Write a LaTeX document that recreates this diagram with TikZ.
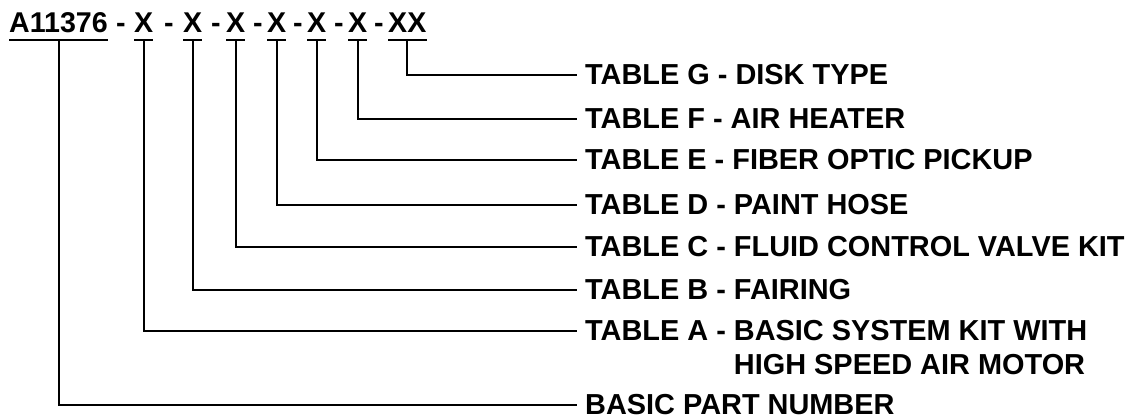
\documentclass[tikz,border=0pt]{standalone}
\usepackage{fontspec}
\setmainfont{Liberation Sans}
\usepackage{tikz}
\usetikzlibrary{calc,positioning}
\tikzstyle{code}  = [inner sep=0pt, anchor=base west, font=\bfseries\fontsize{28.6}{34}\selectfont]
\tikzstyle{hyph}  = [inner sep=0pt, anchor=base, font=\bfseries\fontsize{28.6}{34}\selectfont]
\tikzstyle{lbl}   = [inner sep=0pt, anchor=west, font=\bfseries\fontsize{28.9}{34}\selectfont]
\tikzstyle{lead}  = [line width=2pt]

\begin{document}
\begin{tikzpicture}[x=1pt,y=-1pt]
        \useasboundingbox (0,0) rectangle (1133,419);

        % part number
        \node[code] (pn) at (9,33) {A11376};
        \node[code] (ta) at (134,33) {X};
        \node[code] (tb) at (183,33) {X};
        \node[code] (tc) at (226,33) {X};
        \node[code] (td) at (267,33) {X};
        \node[code] (te) at (307,33) {X};
        \node[code] (tf) at (348,33) {X};
        \node[code] (tg) at (388,33) {XX};
        \foreach \x [count=\i] in {121,169,216,258,298,339,379}
            \node[hyph] (d\i) at (\x,33) {-};

        % tables
        \node[lbl] (lG) at (585,75) {TABLE G - DISK TYPE};
        \node[lbl] (lF) at (585,119) {TABLE F - AIR HEATER};
        \node[lbl] (lE) at (585,160) {TABLE E - FIBER OPTIC PICKUP};
        \node[lbl] (lD) at (585,205) {TABLE D - PAINT HOSE};
        \node[lbl] (lC) at (585,247) {TABLE C - FLUID CONTROL VALVE KIT};
        \node[lbl] (lB) at (585,290) {TABLE B - FAIRING};
        \node[lbl] (lA) at (585,331) {TABLE A - BASIC SYSTEM KIT WITH};
        \node[lbl] (lA2) at (585,365) {\phantom{TABLE A - }HIGH SPEED AIR MOTOR};
        \node[lbl] (lP) at (585,405) {BASIC PART NUMBER};

        \foreach \a/\b in {pn/lP, ta/lA, tb/lB, tc/lC, td/lD, te/lE, tf/lF, tg/lG} {
            \draw[lead] ([yshift=-7pt]\a.base west) -- ([yshift=-7pt]\a.base east);
            \draw[lead] ([yshift=-7pt]\a.base) |- ([xshift=-8pt]\b.west);
        }
\end{tikzpicture}
\end{document}
